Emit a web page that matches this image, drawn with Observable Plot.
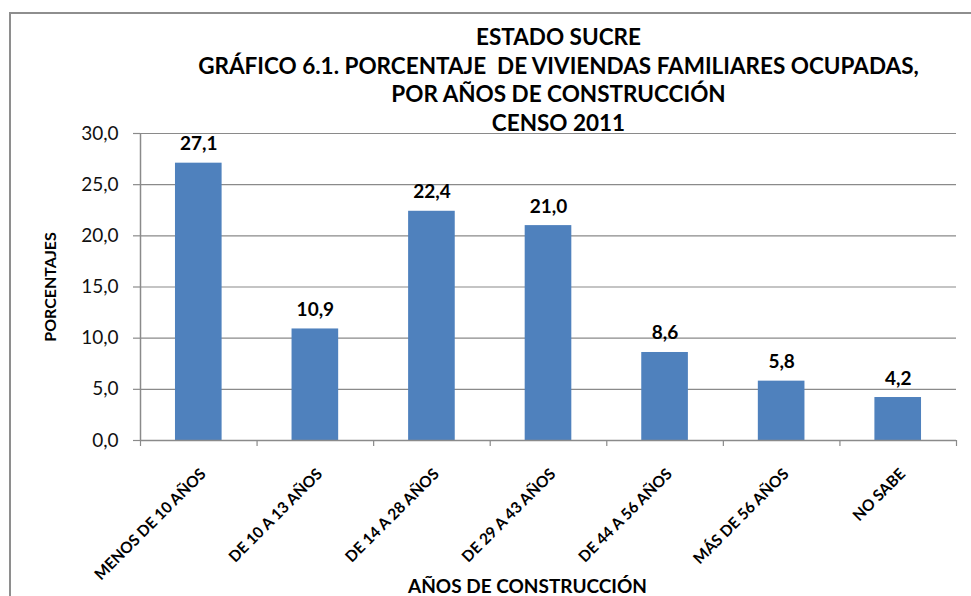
<!DOCTYPE html>
<html>
<head>
<meta charset="utf-8">
<script src="https://cdn.jsdelivr.net/npm/d3@7"></script>
<script src="https://cdn.jsdelivr.net/npm/@observablehq/plot@0.6"></script>
<style>
  html, body { margin: 0; padding: 0; background: #fff; overflow: hidden; }
  #wrap { position: relative; width: 971px; height: 596px; overflow: hidden; }
  #frame { position: absolute; left: 9px; top: 12px; width: 1000px; height: 700px;
           border-left: 2px solid #8e8e8e; border-top: 2px solid #8e8e8e; box-sizing: border-box; }
  #chart { position: absolute; left: 0; top: 0; }
  svg { font-family: Lato, "Open Sans", sans-serif; }
</style>
</head>
<body>
<div id="wrap"><div id="frame"></div><div id="chart"></div></div>
<script>
const categories = ["MENOS DE 10 AÑOS", "DE 10 A 13 AÑOS", "DE 14 A 28 AÑOS", "DE 29 A 43 AÑOS", "DE 44 A 56 AÑOS", "MÁS DE 56 AÑOS", "NO SABE"];
const values = [27.1, 10.9, 22.4, 21.0, 8.6, 5.8, 4.2];
const yTicks = [0, 5, 10, 15, 20, 25, 30];
const titleLines = ["ESTADO SUCRE", "GRÁFICO 6.1. PORCENTAJE  DE VIVIENDAS FAMILIARES OCUPADAS,", "POR AÑOS DE CONSTRUCCIÓN", "CENSO 2011"];
const xTitle = "AÑOS DE CONSTRUCCIÓN";
const yTitle = "PORCENTAJES";

const data = categories.map((c, i) => ({i, c, v: values[i]}));
const fmt = d => d.toFixed(1).replace(".", ",");
const grid = "#8a8a8a";

const chart = Plot.plot({
  width: 971,
  height: 596,
  marginLeft: 140,
  marginRight: 15,
  marginTop: 133,
  marginBottom: 156,
  style: {fontFamily: "Lato, 'Open Sans', sans-serif", background: "transparent"},
  x: {type: "linear", domain: [0, categories.length], axis: null},
  y: {domain: [0, 30], axis: null},
  marks: [
    Plot.ruleY(yTicks.filter(d => d > 0), {stroke: grid, strokeWidth: 1.2}),
    Plot.axisY({ticks: yTicks, tickSize: 7, tickFormat: () => "", stroke: grid, label: null, strokeWidth: 1.2}),
    Plot.axisY({ticks: yTicks, tickSize: 0, tickPadding: 22, tickFormat: fmt, fill: "#111", fontSize: 19, label: null}),
    Plot.axisX({ticks: d3.range(categories.length + 1), tickSize: 6, tickFormat: () => "", stroke: grid, label: null, strokeWidth: 1.2}),
    Plot.rectY(data, {x1: d => d.i + 0.3, x2: d => d.i + 0.7, y: "v", fill: "#4f81bd"}),
    Plot.ruleX([0], {stroke: grid, strokeWidth: 1.5}),
    Plot.ruleY([0], {stroke: grid, strokeWidth: 1.5}),
    Plot.text(data, {x: d => d.i + 0.5, y: "v", text: d => fmt(d.v), dy: -13, lineAnchor: "bottom",
      fontSize: 19, fontWeight: "bold", fill: "#000"}),
    Plot.text(data, {x: d => d.i + 0.5, y: () => 0, text: "c", rotate: -45, textAnchor: "end", lineAnchor: "middle",
      dx: 4.5, dy: 31, fontSize: 15.5, fontWeight: "bold", fill: "#000"}),
    Plot.text([titleLines.join("\n")], {frameAnchor: "top", dx: 10, dy: -3, lineAnchor: "bottom", lineHeight: 1.26,
      fontSize: 22.5, fontWeight: "bold", fill: "#000"}),
    Plot.text([xTitle], {frameAnchor: "bottom", dx: -21, dy: 146, lineAnchor: "middle",
      fontSize: 19, fontWeight: "bold", fill: "#000"}),
    Plot.text([yTitle], {frameAnchor: "left", dx: -90, rotate: -90, textAnchor: "middle", lineAnchor: "middle",
      fontSize: 16, fontWeight: "bold", fill: "#000"})
  ]
});
document.getElementById("chart").appendChild(chart);
</script>
</body>
</html>
